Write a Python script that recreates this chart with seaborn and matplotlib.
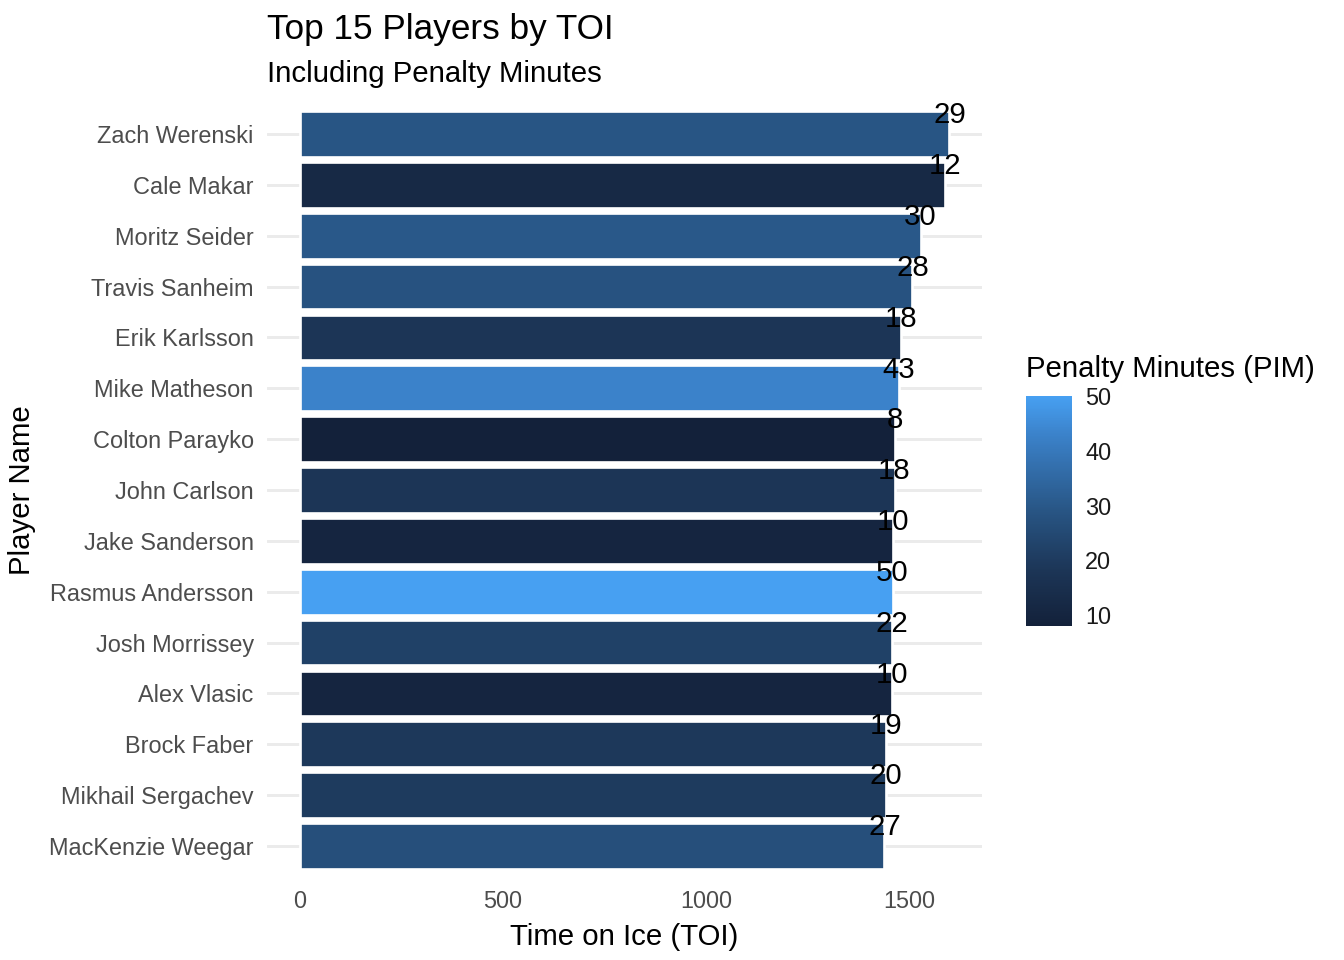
import numpy as np
import pandas as pd
import seaborn as sns
import matplotlib.pyplot as plt
from matplotlib.colors import LinearSegmentedColormap, Normalize
from matplotlib.cm import ScalarMappable

players = ["Zach Werenski", "Cale Makar", "Moritz Seider", "Travis Sanheim",
           "Erik Karlsson", "Mike Matheson", "Colton Parayko", "John Carlson",
           "Jake Sanderson", "Rasmus Andersson", "Josh Morrissey", "Alex Vlasic",
           "Brock Faber", "Mikhail Sergachev", "MacKenzie Weegar"]
toi = [1598, 1586, 1527, 1507, 1478, 1473, 1465, 1463, 1458, 1458, 1456, 1456,
       1441, 1441, 1438]
pim = [29, 12, 30, 28, 18, 43, 8, 18, 10, 50, 22, 10, 19, 20, 27]

df = pd.DataFrame({"Player": players, "TOI": toi, "PIM": pim})

# gradient as it looks in the reference (dark navy -> light blue)
vmin, vmax = min(pim), max(pim)
stops = [(8, "#13213A"), (18, "#1C3556"), (29, "#285584"), (43, "#3B82CA"), (50, "#47A0F2")]
cmap = LinearSegmentedColormap.from_list(
    "pim", [((v - vmin) / (vmax - vmin), c) for v, c in stops])
norm = Normalize(vmin=vmin, vmax=vmax)
pal = {p: cmap(norm(v)) for p, v in zip(players, pim)}

sns.set_theme(style="white")
plt.rcParams["font.family"] = ["Liberation Sans", "DejaVu Sans"]

fig = plt.figure(figsize=(7, 5), dpi=192)
ax = fig.add_axes([267 / 1344, 1 - 876.5 / 960, 715 / 1344, 773 / 960])

sns.barplot(data=df, x="TOI", y="Player", hue="Player", palette=pal, order=players,
            width=0.9, legend=False, saturation=1, ax=ax, orient="h")

for i, (t, p) in enumerate(zip(toi, pim)):
    ax.annotate(str(p), xy=(t, i), xytext=(0, 7), textcoords="offset points",
                ha="center", va="center", fontsize=11, color="black")

ax.set_xlim(-80, 1678)
ax.set_ylim(14.6, -0.6)
ax.set_xticks([0, 500, 1000, 1500])
ax.grid(axis="y", color="#EBEBEB", linewidth=1.1)
ax.grid(axis="x", visible=False)
ax.set_axisbelow(True)
for s in ax.spines.values():
    s.set_visible(False)
ax.tick_params(axis="both", length=0, labelsize=8.8, labelcolor="#4D4D4D")
ax.tick_params(axis="y", pad=5)
ax.tick_params(axis="x", pad=5)
ax.set_xlabel("Time on Ice (TOI)", fontsize=11, color="black", labelpad=4)
ax.set_ylabel("Player Name", fontsize=11, color="black", labelpad=5)

fig.text(267 / 1344, 1 - 29 / 960, "Top 15 Players by TOI", fontsize=13.2,
         ha="left", va="center", color="black")
fig.text(267 / 1344, 1 - 74 / 960, "Including Penalty Minutes", fontsize=11,
         ha="left", va="center", color="black")

# colorbar legend
cax = fig.add_axes([1026 / 1344, 1 - 626 / 960, 46 / 1344, 230 / 960])
cb = fig.colorbar(ScalarMappable(norm=norm, cmap=cmap), cax=cax)
cb.outline.set_visible(False)
cb.set_ticks([10, 20, 30, 40, 50])
cax.tick_params(axis="y", which="both", left=True, right=True, direction="in",
                length=3.4, width=0.8, color="white", labelsize=8.8,
                labelcolor="#1A1A1A", pad=5)
cax.minorticks_off()
fig.text(1026 / 1344, 1 - 369 / 960, "Penalty Minutes (PIM)", fontsize=11,
         ha="left", va="center", color="black")

fig.savefig("out.png", dpi=192)
